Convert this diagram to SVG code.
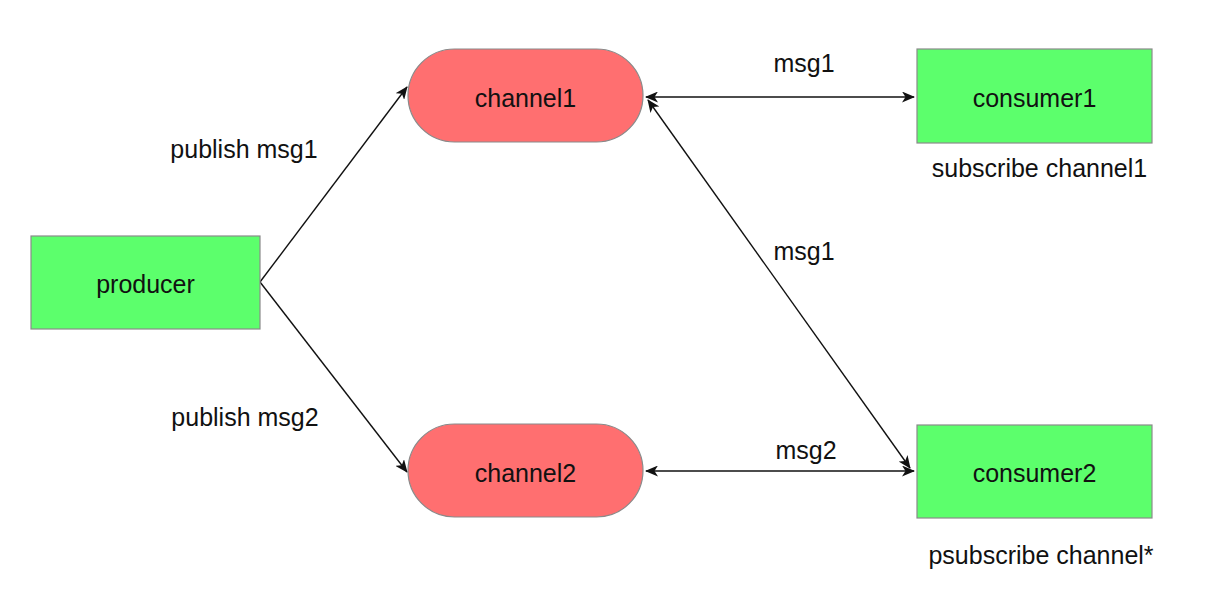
<svg xmlns="http://www.w3.org/2000/svg" width="1205" height="598" viewBox="0 0 1205 598">
<style>
.box{fill:#5CFF6C;stroke:#8a8a8a;stroke-width:1.2}
.chan{fill:#FF6F70;stroke:#8a8a8a;stroke-width:1.2}
text{font-family:"Liberation Sans",Arial,Helvetica,sans-serif;font-size:25px;fill:#111;text-anchor:middle}
.edge{stroke:#111;stroke-width:1.4;fill:none;marker-end:url(#ah)}
.both{marker-start:url(#ah)}
</style>
<defs>
<marker id="ah" viewBox="0 0 13 11" refX="12" refY="5.5" markerWidth="13" markerHeight="11" markerUnits="userSpaceOnUse" orient="auto-start-reverse">
<path d="M0,0 L13,5.5 L0,11 L3.5,5.5 Z" fill="#111"/>
</marker>
</defs>
<rect width="1205" height="598" fill="#fff"/>
<g id="connectors">
<line class="edge" x1="260" y1="282" x2="407" y2="87"/>
<line class="edge" x1="260" y1="282" x2="407" y2="472"/>
<line class="edge both" x1="646" y1="97" x2="914" y2="97"/>
<line class="edge both" x1="646" y1="471" x2="914" y2="471"/>
<line class="edge both" x1="648" y1="100" x2="910" y2="468"/>
</g>
<g id="producer">
<rect class="box" x="31" y="236" width="229" height="93"/>
<text x="145.5" y="293">producer</text>
</g>
<g id="channel1">
<rect class="chan" x="408" y="49" width="235" height="93" rx="46.5"/>
<text x="525.5" y="107">channel1</text>
</g>
<g id="channel2">
<rect class="chan" x="408" y="424" width="235" height="93" rx="46.5"/>
<text x="525.5" y="482">channel2</text>
</g>
<g id="consumer1">
<rect class="box" x="917" y="49" width="235" height="94"/>
<text x="1034.5" y="107">consumer1</text>
</g>
<g id="consumer2">
<rect class="box" x="917" y="425" width="235" height="93"/>
<text x="1034.5" y="482">consumer2</text>
</g>
<g id="labels">
<text x="244" y="158">publish msg1</text>
<text x="245" y="426">publish msg2</text>
<text x="804" y="72">msg1</text>
<text x="804" y="260">msg1</text>
<text x="806" y="459">msg2</text>
<text x="1039.5" y="177">subscribe channel1</text>
<text x="1041" y="564">psubscribe channel*</text>
</g>
</svg>
